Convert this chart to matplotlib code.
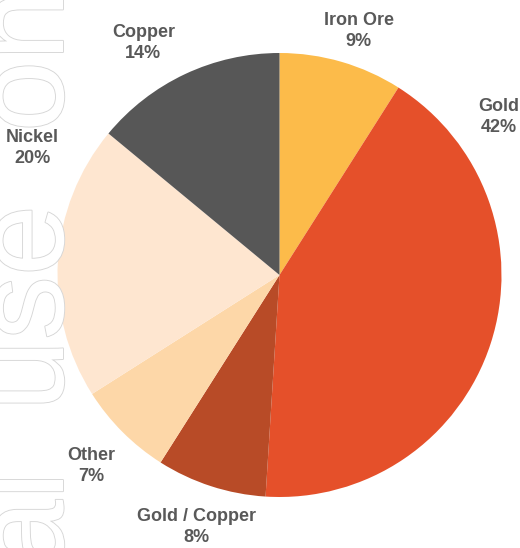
import matplotlib
matplotlib.use("Agg")
import matplotlib.pyplot as plt
import matplotlib.patheffects as pe

# commodity exposure
commodities = ["Iron Ore", "Gold", "Gold / Copper", "Other", "Nickel", "Copper"]
shares = [9, 42, 8, 7, 20, 14]
colors = ["#FCBB4A", "#E5502A", "#B84B27", "#FDD7A8", "#FEE6D0", "#575757"]

# label anchors in pie units (radius = 1)
label_xy = [(0.356, 1.099), (0.986, 0.712), (-0.372, -1.135),
            (-0.847, -0.860), (-1.113, 0.572), (-0.613, 1.045)]

W, H = 520, 548
fig = plt.figure(figsize=(W / 100, H / 100), dpi=100)
fig.patch.set_facecolor("white")

# faint rotated watermark down the left edge, one word at a time
wm_style = dict(rotation=90, rotation_mode="anchor", va="baseline",
                fontsize=92, family="Liberation Sans", color="white", zorder=0,
                path_effects=[pe.Stroke(linewidth=1.3, foreground="#d6d6d6"),
                              pe.Normal()])
fig.text(63 / W, (H - 472) / H, "For personal", ha="right", **wm_style)
fig.text(63 / W, (H - 308) / H, "use", ha="center", **wm_style)
fig.text(63 / W, (H - 132) / H, "only", ha="left", **wm_style)

cx, cy, r = 279.5, 275, 222
ax = fig.add_axes([(cx - r) / W, (H - cy - r) / H, 2 * r / W, 2 * r / H])
ax.pie(shares, colors=colors, startangle=90, counterclock=False, radius=1,
       wedgeprops=dict(linewidth=0))
ax.set_xlim(-1, 1)
ax.set_ylim(-1, 1)
ax.set_aspect("equal")
ax.axis("off")
ax.patch.set_alpha(0)

for name, val, (x, y) in zip(commodities, shares, label_xy):
    ax.text(x, y, f"{name}\n{val}%", ha="center", va="center",
            fontsize=13, fontweight="bold", family="Liberation Sans",
            color="#595959", linespacing=1.35, clip_on=False)

fig.savefig("out.png", dpi=100, facecolor="white")
